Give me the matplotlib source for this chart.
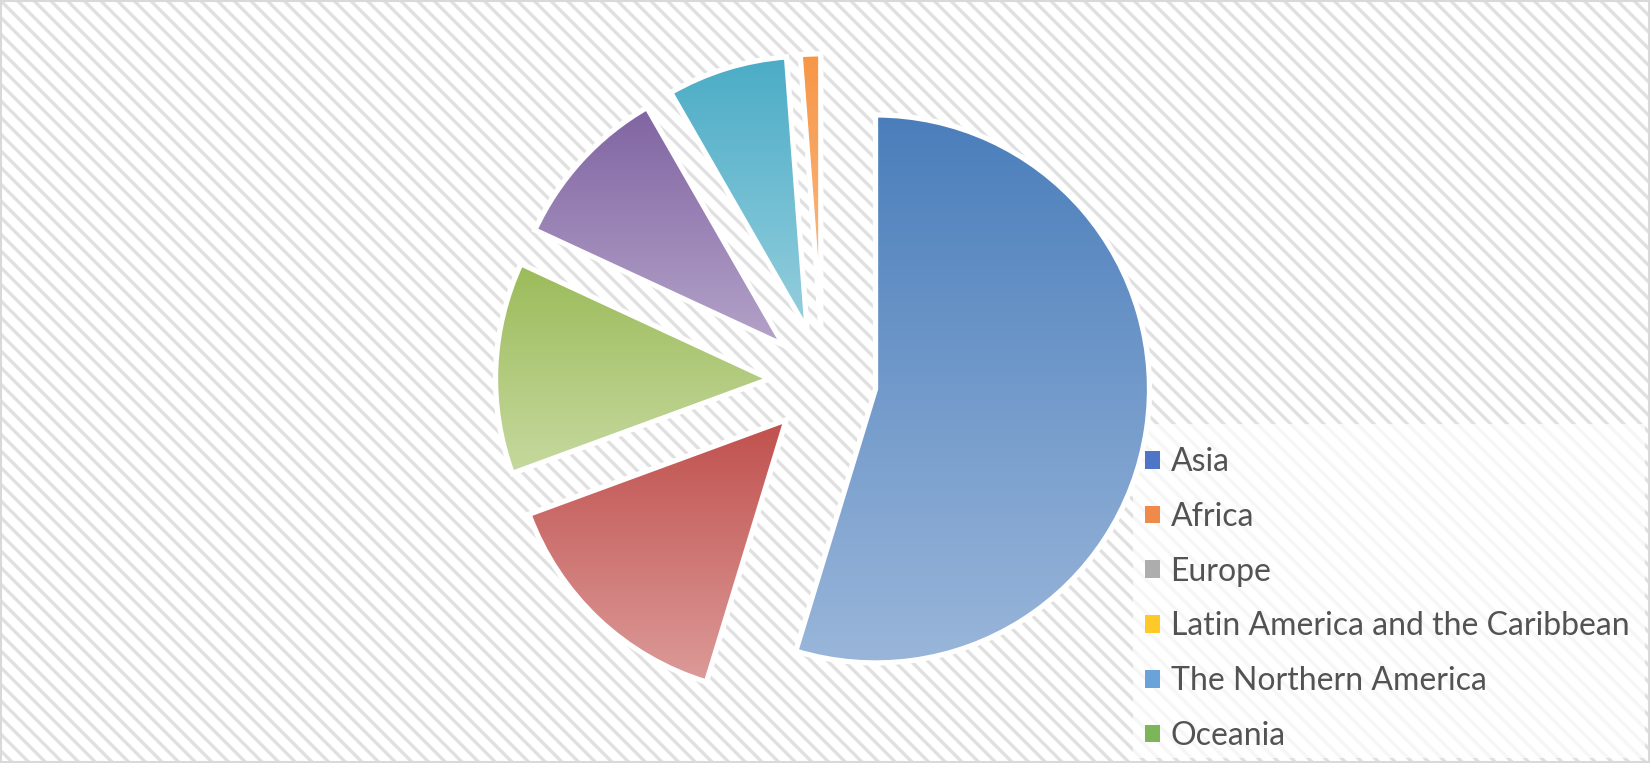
import numpy as np
import matplotlib
matplotlib.use("Agg")
import matplotlib.pyplot as plt
from matplotlib.patches import Rectangle, Patch
from matplotlib.colors import LinearSegmentedColormap

# region shares (%), clockwise from 12 o'clock
regions = ["Asia", "Africa", "Europe", "Latin America and the Caribbean",
           "The Northern America", "Oceania"]
shares = [54.7, 14.7, 12.5, 9.8, 7.1, 1.2]

# slice gradients (top colour, bottom colour)
slice_top = ["#4A7EBB", "#C0504D", "#9BBB59", "#8064A2", "#4BACC6", "#F79646"]
slice_bottom = ["#9AB6DA", "#DC9B99", "#C6D99F", "#B4A3C9", "#95CFDE", "#FAC090"]
# legend swatches
legend_colors = ["#4F76C6", "#F08A4B", "#ADADAD", "#FFCA28", "#69A3DA", "#7CB659"]

W, H = 1650, 763
plt.rcParams["hatch.linewidth"] = 2.4

fig = plt.figure(figsize=(W / 100, H / 100), dpi=100)
ax = fig.add_axes([0, 0, 1, 1])

# striped background
ax.add_patch(Rectangle((0, 0), W, H, facecolor="white", edgecolor="#E0E0E0",
                       hatch="\\\\", linewidth=0, zorder=0))

cx, cy, r = 822.8, H - 381.1, 274
wedges, _ = ax.pie(shares, center=(cx, cy), radius=r, startangle=90,
                   counterclock=False, explode=[53.3] * len(shares))

grad = np.linspace(0, 1, 256).reshape(-1, 1)
for w, c0, c1 in zip(wedges, slice_top, slice_bottom):
    v = w.get_path().vertices
    cmap = LinearSegmentedColormap.from_list("g", [c1, c0])
    im = ax.imshow(grad, cmap=cmap, origin="lower", aspect="auto",
                   extent=(v[:, 0].min(), v[:, 0].max(), v[:, 1].min(), v[:, 1].max()),
                   interpolation="bilinear", zorder=2)
    im.set_clip_path(w)
    w.set_facecolor("none")
    w.set_edgecolor("white")
    w.set_linewidth(3.8)
    w.set_zorder(3)

# legend panel (sits under the pie)
ax.add_patch(Rectangle((1133, H - 758), 1645 - 1133, 758 - 424, facecolor="white",
                       alpha=0.72, edgecolor="none", zorder=1))

handles = [Patch(facecolor=c, edgecolor="none") for c in legend_colors]
leg = ax.legend(handles, regions, loc="upper left",
                bbox_to_anchor=(1145 / W, 1 - 447 / H), bbox_transform=fig.transFigure,
                frameon=False, borderpad=0, borderaxespad=0,
                handlelength=0.48, handleheight=0.48, handletextpad=0.32,
                labelspacing=0.775,
                prop={"family": ["Lato", "DejaVu Sans"], "size": 23})
for t in leg.get_texts():
    t.set_color("#535353")

ax.set_xlim(0, W)
ax.set_ylim(0, H)
ax.set_aspect("auto")
ax.axis("off")

# outer border
ax.add_patch(Rectangle((1, 1), W - 2, H - 2, facecolor="none",
                       edgecolor="#D9D9D9", linewidth=1.5, zorder=10))

fig.savefig("out.png", dpi=100)
